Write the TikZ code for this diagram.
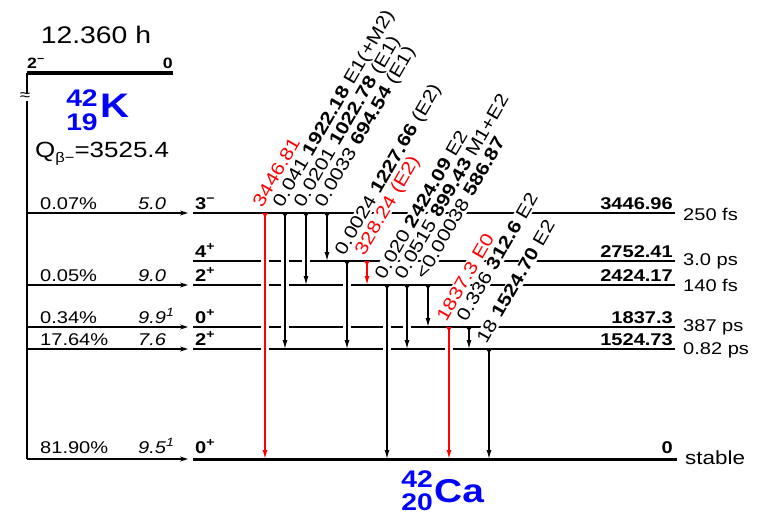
\documentclass[tikz,border=0pt]{standalone}
\usepackage{fontspec}
\setmainfont{Liberation Sans}[FakeStretch=1.18]
\usetikzlibrary{arrows.meta}
\newcommand{\fsz}[1]{\fontsize{#1}{#1}\selectfont}
% x / level from / level to / colour
\def\gammas{265/213/459/red, 285/213/349/black, 306/213/285/black, 327/213/261/black,
  347/261/349/black, 367/261/285/red, 387/285/459/black, 407/285/349/black,
  428/285/327/black, 449/327/459/red, 469/327/349/black, 489/349/459/black}
\begin{document}
\begin{tikzpicture}[x=1pt, y=-1pt, >={Stealth[length=8pt, width=5pt]},
    every node/.style={inner sep=0pt},
    lvl/.style={line width=1.5pt},
    gnd/.style={line width=3pt},
    feed/.style={->, line width=1.2pt},
    gam/.style={line width=1.2pt, {Triangle[reversed, length=4pt, width=6pt]}-{Latex[length=9pt, width=5pt]}},
    gap/.style={white, line width=8pt, shorten <=5pt, shorten >=5pt},
    tlab/.style={rotate=60, anchor=south west, inner sep=0.5pt, fill=white,
      text height=13pt, text depth=1.5pt, font=\fsz{18}},
    lft/.style={anchor=base west, font=\fsz{17}},
    spin/.style={anchor=base west, font=\bfseries\fsz{17}},
    en/.style={anchor=base east, font=\bfseries\fsz{17}},
    hl/.style={anchor=west, font=\fsz{17}}]
\useasboundingbox (0,0) rectangle (760,519);

% parent 42K
\node (thalf) at (96,35) {\fsz{24}12.360 h};
\coordinate (pw) at (27,73);
\coordinate (pe) at (173,73);
\draw[line width=3pt] (pw) -- (pe);
\node[anchor=base west, font=\bfseries\fsz{15}] (pspin) at (27,68) {2\textsuperscript{−}};
\node[anchor=base east, font=\bfseries\fsz{15}] (plev) at (173,68) {0};
\node[blue, font=\bfseries\fsz{24}] (kmass) at (82,98) {42};
\node[blue, font=\bfseries\fsz{24}] (kz) at (82,122) {19};
\node[blue, font=\bfseries\fsz{34}, anchor=west] (ksym) at (100,106) {K};
\node[anchor=base west, font=\fsz{22}] (qval) at (35,157) {Q\raisebox{-5pt}{\fsz{14}β−}=3525.4};

% levels of 42Ca
\foreach \n/\y in {a/213, b/261, c/285, d/327, e/349}{
  \coordinate (l\n) at (193,\y);
  \coordinate (r\n) at (675,\y);
  \draw[lvl] (l\n) -- (r\n);
}
\coordinate (lg) at (193,459);
\coordinate (rg) at (677,459);
\draw[gnd] (lg) -- (rg);

% beta feeding
\coordinate (corner) at (27,459);
\draw[line width=1.2pt] (pw) -- (corner);
\node[fill=white, inner sep=0.5pt, font=\fsz{16}] (brk) at (25,97) {≈};
\foreach \n/\y in {a/213, c/285, d/327, e/349, g/459}{
  \coordinate (src\n) at (27,\y);
  \coordinate (dst\n) at (188,\y);
  \draw[feed] (src\n) -- (dst\n);
}
\node[lft] (ia) at (40,209) {0.07\%};
\node[lft, font=\itshape\fsz{17}] (fa) at (138,209) {5.0};
\node[spin] (ja) at (195,209) {3\textsuperscript{−}};
\node[spin] (jb) at (195,257) {4\textsuperscript{+}};
\node[lft] (ic) at (40,281) {0.05\%};
\node[lft, font=\itshape\fsz{17}] (fc) at (138,281) {9.0};
\node[spin] (jc) at (195,281) {2\textsuperscript{+}};
\node[lft] (id) at (40,323) {0.34\%};
\node[lft, font=\itshape\fsz{17}] (fd) at (138,323) {9.9\textsuperscript{1}};
\node[spin] (jd) at (195,323) {0\textsuperscript{+}};
\node[lft] (ie) at (40,345) {17.64\%};
\node[lft, font=\itshape\fsz{17}] (fe) at (138,345) {7.6};
\node[spin] (je) at (195,345) {2\textsuperscript{+}};
\node[lft] (ig) at (40,453) {81.90\%};
\node[lft, font=\itshape\fsz{17}] (fg) at (138,453) {9.5\textsuperscript{1}};
\node[spin] (jg) at (195,453) {0\textsuperscript{+}};

% level energies and half-lives
\node[en] (ea) at (673,209) {3446.96};
\node[en] (eb) at (673,257) {2752.41};
\node[en] (ec) at (673,281) {2424.17};
\node[en] (ed) at (673,323) {1837.3};
\node[en] (ee) at (673,345) {1524.73};
\node[en] (eg) at (673,453) {0};
\node[hl] (ha) at (683,214) {250 fs};
\node[hl] (hb) at (683,261) {3.0 ps};
\node[hl] (hc) at (683,285) {140 fs};
\node[hl] (hd) at (683,327) {387 ps};
\node[hl] (he) at (683,350) {0.82 ps};
\node[hl, font=\fsz{19}] (hg) at (685,458) {stable};
\node[blue, font=\bfseries\fsz{24}] (camass) at (417,479) {42};
\node[blue, font=\bfseries\fsz{24}] (caz) at (417,502) {20};
\node[blue, font=\bfseries\fsz{33}, anchor=west] (casym) at (434,491) {Ca};

% gamma rays
\foreach \x/\ya/\yb/\c in \gammas {
  \coordinate (s\x) at (\x,\ya);
  \coordinate (e\x) at (\x,\yb);
  \draw[gap] (s\x) -- (e\x);
}
\node[tlab, text=red] (g265) at (264,210) {3446.81};
\node[tlab] (g285) at (284,210) {0.041 \textbf{1922.18} E1(+M2)};
\node[tlab] (g306) at (305,210) {0.0201 \textbf{1022.78} (E1)};
\node[tlab] (g327) at (326,210) {0.0033 \textbf{694.54} (E1)};
\node[tlab] (g347) at (346,258) {0.0024 \textbf{1227.66} (E2)};
\node[tlab, text=red] (g367) at (366,258) {328.24 (E2)};
\node[tlab] (g387) at (386,282) {0.020 \textbf{2424.09} E2};
\node[tlab] (g407) at (406,282) {0.0515 \textbf{899.43} M1+E2};
\node[tlab] (g428) at (427,282) {<0.00038 \textbf{586.87}};
\node[tlab, text=red] (g449) at (448,324) {1837.3 E0};
\node[tlab] (g469) at (468,324) {0.336 \textbf{312.6} E2};
\node[tlab] (g489) at (488,346) {18 \textbf{1524.70} E2};
\foreach \x/\ya/\yb/\c in \gammas {
  \draw[gam, \c] (s\x) -- (e\x);
}
\end{tikzpicture}
\end{document}
